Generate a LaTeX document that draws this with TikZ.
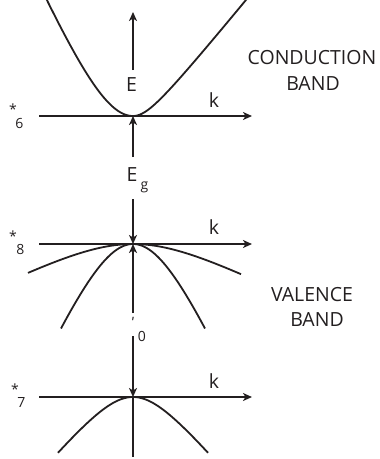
\documentclass[tikz,border=0pt]{standalone}
\usepackage{fontspec}
\setmainfont{Open Sans}
\newfontfamily\djv{DejaVu Sans}
\usetikzlibrary{arrows.meta}
\definecolor{ink}{HTML}{231F20}
\begin{document}
\begin{tikzpicture}[x=1pt,y=-1pt, line width=1.8pt,
  axis/.style={draw=ink, line width=1.8pt, -{Stealth[length=9pt,width=8pt,inset=2.5pt]}},
  band/.style={draw=ink, line width=1.8pt, line join=round},
  lbl/.style={inner sep=0pt, anchor=north, text=ink, font=\fontsize{19.5}{22}\selectfont},
  sml/.style={inner sep=0pt, anchor=north, text=ink, font=\fontsize{14}{16}\selectfont},
  tag/.style={inner sep=0pt, anchor=north, text=ink, font=\fontsize{19.5}{22}\selectfont}]
\useasboundingbox (0,0) rectangle (380,459);
% coordinates
\coordinate (a6s) at (39,116); \coordinate (a6e) at (252,116); \coordinate (v6) at (133,116);
\coordinate (a8s) at (39,244); \coordinate (a8e) at (252,244); \coordinate (v8) at (133,244);
\coordinate (a7s) at (39,397); \coordinate (a7e) at (252,397); \coordinate (v7) at (133,397);
\coordinate (eb) at (133,70); \coordinate (et) at (133,12);
\coordinate (gu) at (133,157); \coordinate (gd) at (133,199);
\coordinate (du) at (133,313); \coordinate (dd) at (133,336);
\coordinate (bot) at (133,457);
% bands
\draw[band] plot[domain=88:0, samples=80, smooth] ({133-\x},{116-117*(sqrt(1+(\x/50)^2)-1)})
  -- plot[domain=0:116, samples=80, smooth] ({133+\x},{116-24.5*(sqrt(1+(\x/20)^2)-1)});
\draw[band] plot[domain=-105:108, samples=101, smooth] ({133+\x},{244+36*(sqrt(1+(\x/70)^2)-1)});
\draw[band] plot[domain=-72:72, samples=101, smooth] ({133+\x},{244+123*(sqrt(1+(\x/53)^2)-1)});
\draw[band] plot[domain=-75:75, samples=101, smooth] ({133+\x},{397+46*(sqrt(1+(\x/38)^2)-1)});
% axes
\draw[axis] (a6s) -- (a6e);
\draw[axis] (a8s) -- (a8e);
\draw[axis] (a7s) -- (a7e);
% energy arrows
\draw[axis] (eb) -- (et);
\draw[axis] (gu) -- (v6);
\draw[axis] (gd) -- (v8);
\draw[axis] (du) -- (v8);
\draw[axis] (dd) -- (v7);
\draw[band] (v7) -- (bot);
% labels
\node[lbl] (k1) at (214,92) {k};
\node[lbl] (k2) at (214,219) {k};
\node[lbl] (k3) at (214,373) {k};
\node[lbl] (E) at (131.5,77) {E};
\node[lbl] (Eg) at (132,167) {E};
\node[sml] (g) at (144.5,181) {g};
\node[sml, font=\djv\fontsize{14}{16}\selectfont] (dl) at (133,316) {ʹ};
\node[sml] (d0) at (142,330) {0};
\node[sml] (s6) at (13,103) {*}; \node[sml] (n6) at (19.5,117) {6};
\node[sml] (s8) at (13,230) {*}; \node[sml] (n8) at (20.5,243) {8};
\node[sml] (s7) at (15,383) {*}; \node[sml] (n7) at (21.5,397) {7};
\node[tag] (cb1) at (312,49) {CONDUCTION};
\node[tag] (cb2) at (313,76) {BAND};
\node[tag] (vb1) at (312,286) {VALENCE};
\node[tag] (vb2) at (317,312) {BAND};
\end{tikzpicture}
\end{document}
